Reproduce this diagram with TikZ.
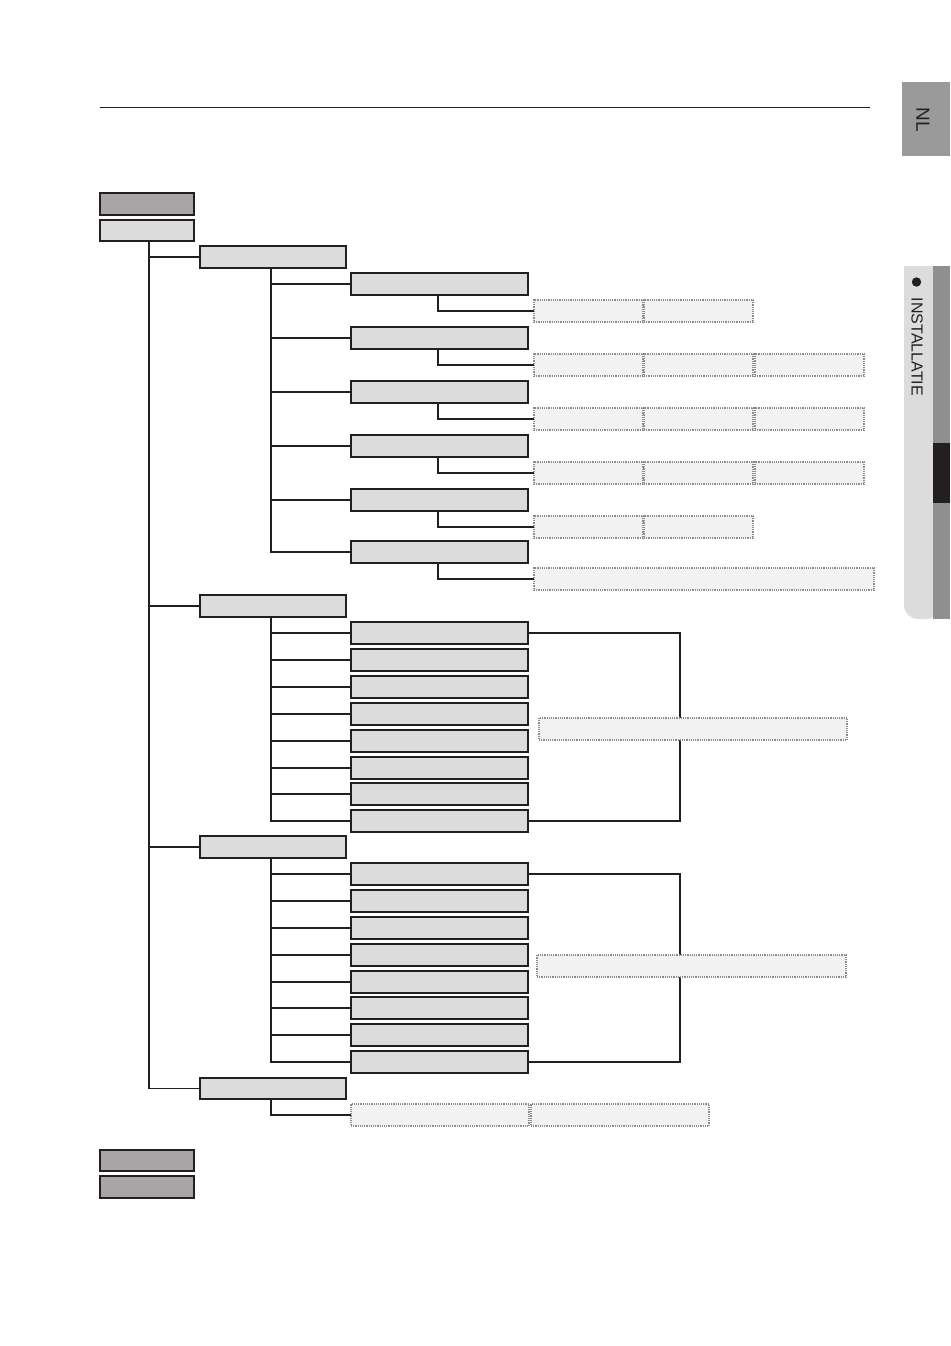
\documentclass[tikz,border=0pt]{standalone}
\usepackage{fontspec}
\setmainfont{Liberation Sans}
\definecolor{ink}{HTML}{231F20}
\definecolor{boxdark}{HTML}{A7A5A6}
\definecolor{boxlight}{HTML}{DCDCDC}
\definecolor{leaffill}{HTML}{F2F2F2}
\definecolor{leafline}{HTML}{8C8C8C}
\definecolor{tabgray}{HTML}{9A9A9A}
\definecolor{tablight}{HTML}{DCDCDC}
\definecolor{tabdark}{HTML}{8F8F8F}
\begin{document}
\begin{tikzpicture}[x=1pt,y=-1pt,
  base/.style={rectangle, inner sep=0pt, outer sep=0pt, anchor=north west},
  dbox/.style={base, draw=ink, line width=1.5pt, fill=boxdark},
  lbox/.style={base, draw=ink, line width=1.5pt, fill=boxlight},
  leaf/.style={base, draw=leafline, densely dotted, line width=1.2pt, fill=leaffill},
  conn/.style={draw=ink, line width=1.3pt},
  wtop/.style={minimum width=94pt},
  wone/.style={minimum width=146pt},
  wtwo/.style={minimum width=177pt},
  wleaf/.style={minimum width=109pt},
  hh/.style={minimum height=22pt},
  tabtext/.style={text=ink, inner sep=0pt, rotate=-90}]
\useasboundingbox (0,0) rectangle (950,1346);
\fill[white] (0,0) rectangle (950,1346);

% top rule
\coordinate (r1) at (100,107);
\coordinate (r2) at (870,107);
\draw[ink, line width=0.9pt] (r1) -- (r2);

% side tabs
\fill[tabgray] (902,82) rectangle (950,156);
\node[tabtext, font=\fontsize{19}{19}\selectfont] (nl) at (923,120) {NL};
\fill[tablight] (904,266) [rounded corners=14pt] -- (904,619) -- (940,619) [sharp corners] -- (940,266) -- cycle;
\fill[tabdark] (933,266) rectangle (950,619);
\fill[ink] (933,443) rectangle (950,503);
\fill[ink] (916.5,282) circle[radius=4.7pt];
\node[tabtext, font=\fontsize{16}{16}\selectfont] (inst) at (917,347) {INSTALLATIE};

% level 0
\node[dbox, wtop, hh] (m0) at (100,193) {};
\node[lbox, wtop, minimum height=21pt] (m1) at (100,220) {};
\node[dbox, wtop, minimum height=21pt] (m2) at (100,1150) {};
\node[dbox, wtop, hh] (m3) at (100,1176) {};

% level 1
\node[lbox, wone, hh] (s1) at (200,246) {};
\node[lbox, wone, hh] (s2) at (200,595) {};
\node[lbox, wone, hh] (s3) at (200,836) {};
\node[lbox, wone, minimum height=21pt] (s4) at (200,1078) {};

\coordinate (t0) at ([xshift=2pt]m1.south);
\draw[conn] (t0) |- (s4.west);
\foreach \k in {1,2,3} \draw[conn] (t0 |- s\k.west) -- (s\k.west);

% group 1
\foreach \i/\y in {1/273,2/327,3/381,4/435,5/489,6/541}
  \node[lbox, wtwo, hh] (a\i) at (351,\y) {};
\coordinate (t1) at ([xshift=-2pt]s1.south);
\draw[conn] (t1) |- (a6.west);
\foreach \i in {1,...,5} \draw[conn] (t1 |- a\i.west) -- (a\i.west);

\foreach \r/\y in {1/300,5/516} {
  \node[leaf, wleaf, hh] (la\r) at (534,\y) {};
  \node[leaf, wleaf, hh] (lb\r) at (644,\y) {};
}
\foreach \r/\y in {2/354,3/408,4/462} {
  \node[leaf, wleaf, hh] (la\r) at (534,\y) {};
  \node[leaf, wleaf, hh] (lb\r) at (644,\y) {};
  \node[leaf, wleaf, hh] (lc\r) at (755,\y) {};
}
\node[leaf, minimum width=340pt, hh] (la6) at (534,568) {};
\foreach \i in {1,...,6} \draw[conn] ([xshift=-1.5pt]a\i.south) |- (la\i.west);

% group 2
\foreach \i/\y in {1/622,2/649,3/676,4/703,5/730,6/757,7/783,8/810}
  \node[lbox, wtwo, hh] (b\i) at (351,\y) {};
\coordinate (t2) at ([xshift=-2pt]s2.south);
\draw[conn] (t2) |- (b8.west);
\foreach \i in {1,...,7} \draw[conn] (t2 |- b\i.west) -- (b\i.west);
\coordinate (k2) at (680,700);
\draw[conn] (b1.east) -| (k2 |- b8.east) -- (b8.east);
\node[leaf, minimum width=308pt, hh] (lg2) at (539,718) {};

% group 3
\foreach \i/\y in {1/863,2/890,3/917,4/944,5/971,6/997,7/1024,8/1051}
  \node[lbox, wtwo, hh] (c\i) at (351,\y) {};
\coordinate (t3) at ([xshift=-2pt]s3.south);
\draw[conn] (t3) |- (c8.west);
\foreach \i in {1,...,7} \draw[conn] (t3 |- c\i.west) -- (c\i.west);
\coordinate (k3) at (680,950);
\draw[conn] (c1.east) -| (k3 |- c8.east) -- (c8.east);
\node[leaf, minimum width=309pt, hh] (lg3) at (537,955) {};

% group 4
\node[leaf, minimum width=178pt, hh] (ld1) at (351,1104) {};
\node[leaf, minimum width=178pt, hh] (ld2) at (531,1104) {};
\coordinate (t4) at ([xshift=-2pt]s4.south);
\draw[conn] (t4) |- (ld1.west);
\end{tikzpicture}
\end{document}
